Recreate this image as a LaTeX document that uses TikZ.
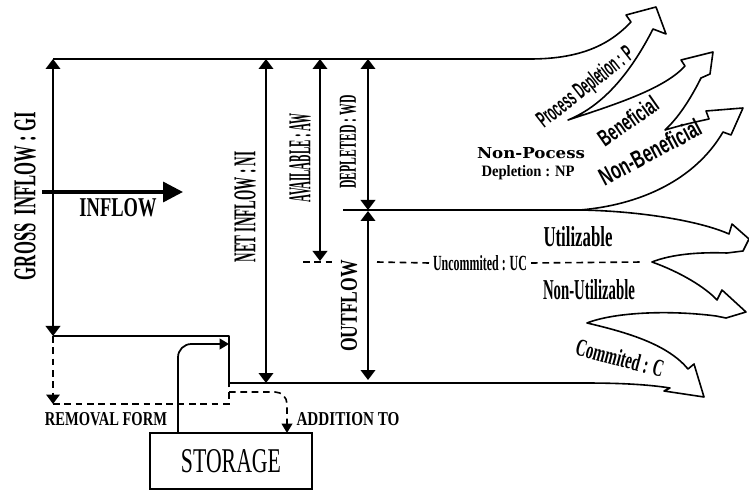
\documentclass[tikz,border=0pt]{standalone}
\usepackage{fontspec}
\setmainfont{Liberation Serif}
\newfontfamily\sansf{Liberation Sans}
\newfontfamily\wideserif{DejaVu Serif}
\usetikzlibrary{arrows.meta}
\newdimen\pxu \pxu=0.75pt
\newcommand\fitbox[3]{\resizebox{#1\pxu}{#2\pxu}{#3}}
\begin{document}
\begin{tikzpicture}[x=0.75pt,y=-0.75pt,
  ln/.style={line width=1.3pt},
  dimline/.style={line width=1.3pt,{Triangle[width=11pt,length=7.5pt]}-{Triangle[width=11pt,length=7.5pt]}},
  flow/.style={line width=1.2pt, line join=round},
  dsh/.style={line width=1.2pt, dash pattern=on 5pt off 3.5pt},
  lbl/.style={inner sep=0pt, outer sep=0pt},
  ]
\useasboundingbox (0,0) rectangle (749,491);

% key points
\coordinate (TL) at (53,59);
\coordinate (GIb) at (53,336);
\coordinate (J1) at (229,336);
\coordinate (J2) at (229,383);
\coordinate (NIt) at (266,59);
\coordinate (NIb) at (266,383);
\coordinate (AWt) at (320,59);
\coordinate (AWb) at (320,261);
\coordinate (WDt) at (368,59);
\coordinate (WDb) at (368,210);
\coordinate (OFt) at (368,211);
\coordinate (OFb) at (368,380);
\coordinate (ML) at (343,210);
\coordinate (RM) at (53,404);
\coordinate (RMc) at (229,404);
\coordinate (AD) at (229,392);
\coordinate (ADe) at (287,433);
\coordinate (SA) at (178,433);
\coordinate (SB) at (229,344);
\coordinate (INa) at (42,192);
\coordinate (INb) at (183,192);
\coordinate (UCa) at (303,262);
\coordinate (UCb) at (335,262);
\coordinate (UCc) at (377,262);
\coordinate (UCd) at (643,262);

% storage
\node[draw, line width=1pt, minimum width=121.5pt, minimum height=42pt, inner sep=0pt] (storage) at (231,461) {\fitbox{100}{23}{STORAGE}};

% upper outflow outline (P, Beneficial, Non-Beneficial)
\draw[flow] (TL) -- (530,59) .. controls (585,59) and (612,42) .. (631,22) -- (626,15) -- (656,7) -- (666,34) -- (653,29)
  .. controls (632,70) and (605,105) .. (568,120)
  .. controls (620,103) and (665,88) .. (685,66) -- (681,60) -- (713,52) -- (710,74) -- (701,78)
  .. controls (690,100) and (678,118) .. (665,130)
  .. controls (685,124) and (700,121) .. (709,119) -- (706,111) -- (743,108) -- (731,135) -- (723,132)
  .. controls (695,180) and (640,205) .. (580,210) -- (ML);

% lower outflow outline (Utilizable, Non-Utilizable, Commited)
\draw[flow] (ML) -- (580,210) .. controls (640,211) and (700,221) .. (729,234) -- (732,224) -- (749,239) -- (743,251) -- (727,253)
  .. controls (700,252) and (672,254) .. (652,262)
  .. controls (680,272) and (705,287) .. (717,300) -- (722,290) -- (746,312) -- (726,318) -- (716,316)
  .. controls (670,310) and (615,312) .. (587,323)
  .. controls (630,333) and (668,345) .. (688,369) -- (694,364) -- (704,397) -- (664,391) -- (670,388)
  .. controls (645,384) and (615,383) .. (583,383) -- (J2) -- (J1) -- (GIb);

% dimension arrows
\draw[dimline] (TL) -- (GIb);
\draw[dimline] (NIt) -- (NIb);
\draw[dimline] (AWt) -- (AWb);
\draw[dimline] (WDt) -- (WDb);
\draw[dimline] (OFt) -- (OFb);

% inflow arrow
\draw[line width=2.6pt, -{Triangle[width=15pt,length=15pt]}] (INa) -- (INb);

% storage exchanges
\draw[dsh, -{Triangle[width=10pt,length=7pt]}] (GIb) -- (RM);
\draw[dsh] (RM) -- (RMc) -- (J2);
\draw[dsh, rounded corners=9pt, -{Triangle[width=8pt,length=7pt]}] (AD) -| (ADe);
\draw[ln, rounded corners=10pt, -{Triangle[width=8pt,length=7pt]}] (SA) |- (SB);

% labels
\node[lbl, rotate=90] (gi) at (25,196) {\fitbox{168}{21}{\bfseries GROSS\ \ INFLOW : GI}};
\node[lbl] (inflow) at (118,208) {\fitbox{77}{18}{\bfseries INFLOW}};
\node[lbl, rotate=90] (ni) at (245,207) {\fitbox{111}{21}{\bfseries NET INFLOW : NI}};
\node[lbl, rotate=90] (aw) at (300,158) {\fitbox{89}{21}{\bfseries AVAILABLE : AW}};
\node[lbl, rotate=90] (wd) at (348,142) {\fitbox{93}{16}{\bfseries DEPLETED : WD}};
\node[lbl, rotate=90, fill=white] (of) at (349,306) {\fitbox{92}{16}{\bfseries OUTFLOW}};
\node[lbl] (np1) at (531,153) {\fitbox{108}{11}{\wideserif\bfseries Non-Pocess}};
\node[lbl] (np2) at (528,173) {\fitbox{93}{11}{\bfseries Depletion : NP}};
\node[lbl] (ut) at (578,237) {\fitbox{69}{20}{\bfseries Utilizable}};
\node[lbl] (uc) at (480,263) {\fitbox{94}{15}{\bfseries Uncommited : UC}};
\node[lbl] (nu) at (589,290) {\fitbox{92}{20}{\bfseries Non-Utilizable}};
\node[lbl, rotate=-15] (cm) at (620,358) {\fitbox{90}{17}{\bfseries Commited : C}};
\node[lbl, rotate=38] (pd) at (586,88) {\fitbox{116}{17}{\sansf\bfseries Process Depletion : P}};
\node[lbl, rotate=35] (bn) at (628,121) {\fitbox{68}{17}{\sansf\bfseries Beneficial}};
\node[lbl, rotate=28] (nb) at (650,152) {\fitbox{112}{18}{\sansf\bfseries Non-Beneficial}};
\node[lbl] (rf) at (106,419) {\fitbox{122}{13}{\bfseries REMOVAL FORM}};
\node[lbl] (at) at (348,419) {\fitbox{103}{13}{\bfseries ADDITION TO}};

% uncommitted dashed line
\draw[dsh] (UCa) -- (UCb);
\draw[dsh] (UCc) -- ([xshift=-3pt]uc.west);
\draw[dsh] ([xshift=3pt]uc.east) -- (UCd);
\end{tikzpicture}
\end{document}
